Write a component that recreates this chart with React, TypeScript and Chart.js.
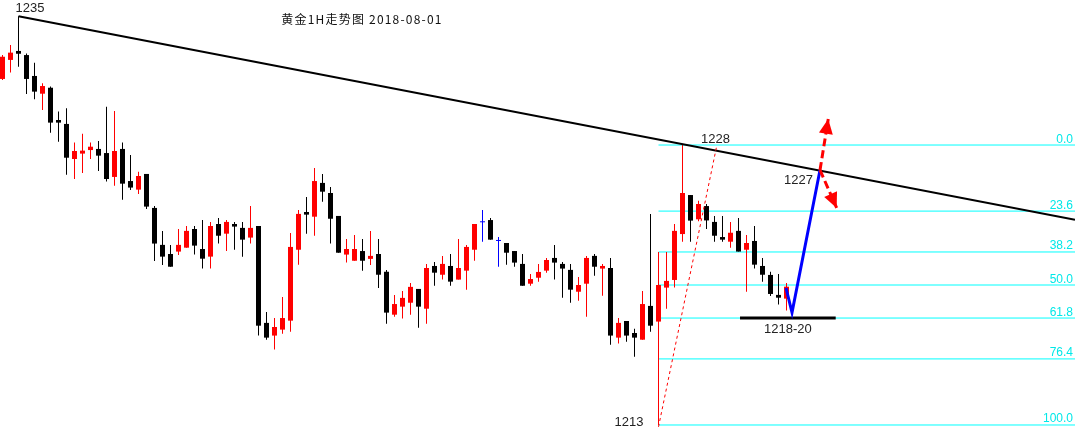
import { useEffect, useRef } from 'react';
import { Chart, registerables } from 'chart.js';

Chart.register(...registerables);

// ---- Candle data (hourly gold price) ----
const opens = [
  1231.54, 1232.56, 1233.04, 1232.82, 1231.70, 1230.75, 1231.07, 1229.34, 1229.13, 1227.25,
  1227.54, 1227.73, 1227.79, 1227.57, 1226.29, 1227.79, 1226.07, 1225.61, 1226.45, 1224.63,
  1222.65, 1222.16, 1222.29, 1222.50, 1223.50, 1222.43, 1222.02, 1223.77, 1223.25, 1223.77,
  1223.56, 1223.04, 1223.66, 1218.47, 1217.79, 1218.11, 1218.59, 1222.39, 1224.41, 1224.16,
  1225.97, 1225.43, 1224.20, 1222.13, 1221.80, 1222.32, 1221.90, 1222.16, 1221.21, 1218.91,
  1219.34, 1219.55, 1220.29, 1219.23, 1221.52, 1221.05, 1221.52, 1220.79, 1221.27, 1222.39,
  1223.86, 1223.98, 1222.86, 1222.75, 1222.32, 1221.63, 1220.57, 1220.89, 1221.27, 1221.95,
  1221.63, 1221.31, 1220.14, 1220.57, 1222.06, 1221.38, 1221.41, 1217.68, 1218.57, 1217.93,
  1217.57, 1219.38, 1218.54, 1220.36, 1220.77, 1223.23, 1225.32, 1224.02, 1224.73, 1223.88,
  1223.07, 1222.82, 1223.40, 1222.39, 1222.86, 1221.52, 1221.04, 1219.97, 1219.77,
];
const highs = [
  1232.82, 1233.36, 1234.90, 1232.91, 1232.41, 1231.31, 1231.13, 1229.79, 1229.97, 1228.13,
  1228.61, 1228.13, 1228.22, 1230.05, 1229.82, 1228.13, 1227.47, 1226.57, 1226.45, 1224.73,
  1223.40, 1222.65, 1223.50, 1223.66, 1223.66, 1223.98, 1223.88, 1224.09, 1223.98, 1223.88,
  1223.88, 1224.73, 1223.66, 1219.06, 1218.73, 1219.86, 1223.29, 1224.52, 1225.22, 1226.77,
  1226.45, 1225.75, 1224.20, 1222.97, 1223.18, 1222.97, 1223.40, 1222.97, 1221.31, 1219.97,
  1220.18, 1220.61, 1220.29, 1221.63, 1221.73, 1222.06, 1222.16, 1222.97, 1222.65, 1223.77,
  1224.52, 1224.09, 1223.07, 1222.75, 1222.32, 1222.16, 1221.09, 1221.63, 1221.95, 1222.65,
  1221.73, 1221.63, 1220.93, 1222.06, 1222.16, 1221.63, 1221.95, 1218.73, 1218.57, 1218.15,
  1220.18, 1224.31, 1222.27, 1222.27, 1223.77, 1228.00, 1225.32, 1225.02, 1224.84, 1224.20,
  1224.20, 1223.88, 1224.09, 1223.18, 1223.66, 1221.95, 1221.21, 1221.09, 1220.61,
];
const lows = [
  1231.48, 1231.88, 1232.20, 1230.73, 1230.45, 1229.88, 1228.66, 1228.18, 1226.41, 1226.18,
  1226.50, 1227.25, 1226.61, 1226.04, 1225.82, 1225.07, 1225.59, 1225.38, 1224.57, 1221.79,
  1221.57, 1221.48, 1222.11, 1222.50, 1222.13, 1221.38, 1221.38, 1222.72, 1222.32, 1222.39,
  1222.02, 1222.72, 1217.79, 1217.57, 1217.04, 1217.89, 1218.00, 1221.59, 1223.25, 1223.14,
  1224.96, 1222.72, 1222.23, 1221.70, 1221.80, 1221.27, 1221.57, 1220.34, 1218.43, 1218.80,
  1218.70, 1218.91, 1218.21, 1218.43, 1220.46, 1220.79, 1220.46, 1220.79, 1220.25, 1221.80,
  1222.82, 1222.93, 1221.48, 1221.59, 1221.48, 1220.46, 1220.46, 1220.68, 1221.16, 1220.79,
  1219.82, 1219.55, 1219.66, 1218.80, 1221.00, 1219.93, 1217.30, 1217.36, 1217.46, 1216.66,
  1217.57, 1218.00, 1213.00, 1219.23, 1220.36, 1222.82, 1222.82, 1223.91, 1223.50, 1222.82,
  1222.82, 1222.50, 1222.29, 1220.14, 1221.38, 1220.68, 1219.91, 1219.45, 1219.13,
];
const closes = [
  1232.73, 1232.95, 1232.89, 1231.54, 1230.86, 1231.16, 1229.20, 1229.20, 1227.32, 1227.68,
  1227.70, 1227.91, 1227.43, 1226.18, 1227.68, 1225.93, 1225.72, 1226.34, 1224.70, 1222.72,
  1222.02, 1221.48, 1222.65, 1223.40, 1222.61, 1221.91, 1223.66, 1223.14, 1223.88, 1223.63,
  1222.93, 1223.56, 1218.32, 1217.68, 1218.25, 1218.73, 1222.54, 1224.31, 1224.27, 1226.07,
  1225.50, 1224.05, 1222.23, 1222.43, 1222.43, 1221.80, 1222.06, 1221.05, 1219.02, 1219.48,
  1219.81, 1220.40, 1219.34, 1221.41, 1221.16, 1221.63, 1220.68, 1221.41, 1222.54, 1223.77,
  1223.86, 1222.93, 1222.86, 1222.23, 1221.70, 1220.46, 1220.82, 1221.20, 1221.84, 1221.70,
  1221.38, 1220.25, 1220.50, 1221.95, 1221.48, 1221.52, 1217.79, 1218.47, 1217.79, 1217.68,
  1219.48, 1218.32, 1220.50, 1220.72, 1223.40, 1225.43, 1223.95, 1224.84, 1223.96, 1223.14,
  1222.93, 1223.30, 1222.29, 1222.75, 1221.59, 1221.05, 1220.02, 1219.82, 1220.41,
];

// ---- Fibonacci retracement (1228 high -> 1213 low) ----
const fibLevels = [1228, 1224.46, 1222.27, 1220.5, 1218.73, 1216.54, 1213];
const fibLabels = ['0.0', '23.6', '38.2', '50.0', '61.8', '76.4', '100.0'];
const fibStartX = [82];

// ---- Drawn lines ----
const trendX = [2, 134.0625];
const trendY = [1234.9, 1224.0];
const swingX = [82, 89.3];
const swingY = [1212.9, 1228];
const pathX = [97.94, 98.69, 102.19];
const pathY = [1220.34, 1219.02, 1226.66];
const upArrowX = [102.19, 103.22];
const upArrowY = [1226.66, 1229.4];
const downArrowX = [102.19, 104.27];
const downArrowY = [1226.66, 1224.63];
const supportX = [92.19, 104.15];
const supportY = [1218.73, 1218.73];

// ---- Text annotations ----
const labelTexts = ['1235', '1228', '1227', '1213', '1218-20'];
const labelX = [2, 89.3, 102.19, 82, 98.17];
const labelY = [1234.9, 1228, 1226.66, 1213, 1218.73];
const titleText = '黄金1H走势图 2018-08-01';

const X_MIN = -0.3125;
const X_MAX = 134.0625;
const Y_MIN = 1212.41;
const Y_MAX = 1235.77;

const labelStyles = [
  { align: 'left', dx: -3, dy: -4 },
  { align: 'center', dx: -1.5, dy: -2 },
  { align: 'right', dx: -7, dy: 13.5 },
  { align: 'right', dx: -15, dy: 1 },
  { align: 'center', dx: 0, dy: 15 },
];

const pts = (xs: number[], ys: number[]) => xs.map((x, i) => ({ x, y: ys[i] }));

export default function App() {
  const ref = useRef<HTMLCanvasElement | null>(null);

  useEffect(() => {
    document.body.style.margin = '0';
    const canvas = ref.current;
    if (!canvas) return;

    const idx = opens.map((_, i) => i);
    const colors = idx.map((i) =>
      closes[i] > opens[i] ? '#ff0000' : closes[i] < opens[i] ? '#000000' : '#0000ff'
    );

    const lineBase = {
      type: 'line' as const,
      pointRadius: 0,
      pointHoverRadius: 0,
      fill: false,
      tension: 0,
    };

    const fibDatasets = fibLevels.map((lv) => ({
      ...lineBase,
      label: 'fib',
      data: [{ x: fibStartX[0], y: lv }, { x: X_MAX, y: lv }],
      borderColor: '#00ffff',
      borderWidth: 1,
      order: 10,
    }));

    const labelsPlugin = {
      id: 'textLabels',
      afterDatasetsDraw(chart: any) {
        const ctx = chart.ctx;
        const xs = chart.scales.x;
        const ys = chart.scales.y;
        ctx.save();
        // fib labels
        ctx.font = '12px "Liberation Sans", Arial, sans-serif';
        ctx.fillStyle = '#00e8e8';
        ctx.textAlign = 'right';
        ctx.textBaseline = 'alphabetic';
        fibLevels.forEach((lv, i) => {
          ctx.fillText(fibLabels[i], chart.chartArea.right - 2, ys.getPixelForValue(lv) - 2.5);
        });
        // point labels
        ctx.font = '13px "Liberation Sans", Arial, sans-serif';
        ctx.fillStyle = '#222222';
        labelTexts.forEach((t, i) => {
          const st = labelStyles[i];
          ctx.textAlign = st.align;
          ctx.fillText(t, xs.getPixelForValue(labelX[i]) + st.dx, ys.getPixelForValue(labelY[i]) + st.dy);
        });
        // title
        ctx.font = '12px "Noto Sans CJK SC", sans-serif';
        ctx.fillStyle = '#111111';
        ctx.textAlign = 'center';
        try { (ctx as any).letterSpacing = '1.2px'; } catch (e) {}
        ctx.fillText(titleText, 362, 24);
        try { (ctx as any).letterSpacing = '0px'; } catch (e) {}
        ctx.restore();
      },
    };

    const arrowPlugin = {
      id: 'arrowHeads',
      afterDatasetsDraw(chart: any) {
        const ctx = chart.ctx;
        chart.data.datasets.forEach((ds: any, i: number) => {
          if (!ds.arrowHead) return;
          const el = chart.getDatasetMeta(i).data;
          const a = el[el.length - 2];
          const b = el[el.length - 1];
          const ang = Math.atan2(b.y - a.y, b.x - a.x);
          const len = 15;
          const half = 7;
          const bx = b.x - len * Math.cos(ang);
          const by = b.y - len * Math.sin(ang);
          ctx.save();
          ctx.fillStyle = ds.borderColor;
          ctx.beginPath();
          ctx.moveTo(b.x, b.y);
          ctx.lineTo(bx + half * Math.sin(ang), by - half * Math.cos(ang));
          ctx.lineTo(bx - half * Math.sin(ang), by + half * Math.cos(ang));
          ctx.closePath();
          ctx.fill();
          ctx.restore();
        });
      },
    };

    const chart = new Chart(canvas, {
      type: 'bar',
      data: {
        datasets: [
          ...fibDatasets,
          {
            type: 'bar',
            label: 'wick',
            data: idx.map((i) => ({ x: i, y: [lows[i], highs[i]] })),
            backgroundColor: colors,
            barThickness: 1,
            grouped: false,
            inflateAmount: 0,
            order: 9,
          } as any,
          {
            type: 'bar',
            label: 'body',
            data: idx.map((i) => ({ x: i, y: [opens[i], closes[i]] })),
            backgroundColor: colors,
            barThickness: 5,
            minBarLength: 1,
            grouped: false,
            inflateAmount: 0,
            order: 8,
          } as any,
          {
            ...lineBase,
            label: 'trend',
            data: pts(trendX, trendY),
            borderColor: '#000000',
            borderWidth: 2,
            order: 5,
          },
          {
            ...lineBase,
            label: 'swing',
            data: pts(swingX, swingY),
            borderColor: '#ff0000',
            borderWidth: 1,
            borderDash: [3, 3],
            order: 4,
          },
          {
            ...lineBase,
            label: 'support',
            data: pts(supportX, supportY),
            borderColor: '#000000',
            borderWidth: 3,
            order: 3,
          },
          {
            ...lineBase,
            label: 'path',
            data: pts(pathX, pathY),
            borderColor: '#0000ff',
            borderWidth: 3,
            order: 2,
          },
          {
            ...lineBase,
            label: 'up',
            data: pts(upArrowX, upArrowY),
            borderColor: '#ff0000',
            borderWidth: 3,
            borderDash: [8, 4],
            arrowHead: true,
            order: 1,
          } as any,
          {
            ...lineBase,
            label: 'down',
            data: pts(downArrowX, downArrowY),
            borderColor: '#ff0000',
            borderWidth: 3,
            borderDash: [8, 4],
            arrowHead: true,
            order: 1,
          } as any,
        ],
      },
      options: {
        animation: false,
        responsive: false,
        devicePixelRatio: 1,
        layout: { padding: 0 },
        events: [],
        plugins: {
          legend: { display: false },
          tooltip: { enabled: false },
          title: { display: false },
        },
        scales: {
          x: {
            type: 'linear',
            min: X_MIN,
            max: X_MAX,
            offset: false,
            display: false,
          },
          y: {
            type: 'linear',
            min: Y_MIN,
            max: Y_MAX,
            display: false,
            beginAtZero: false,
          },
        },
      },
      plugins: [labelsPlugin, arrowPlugin],
    } as any);

    return () => chart.destroy();
  }, []);

  return (
    <canvas
      ref={ref}
      width={1075}
      height={436}
      style={{ display: 'block', width: 1075, height: 436 }}
    />
  );
}
